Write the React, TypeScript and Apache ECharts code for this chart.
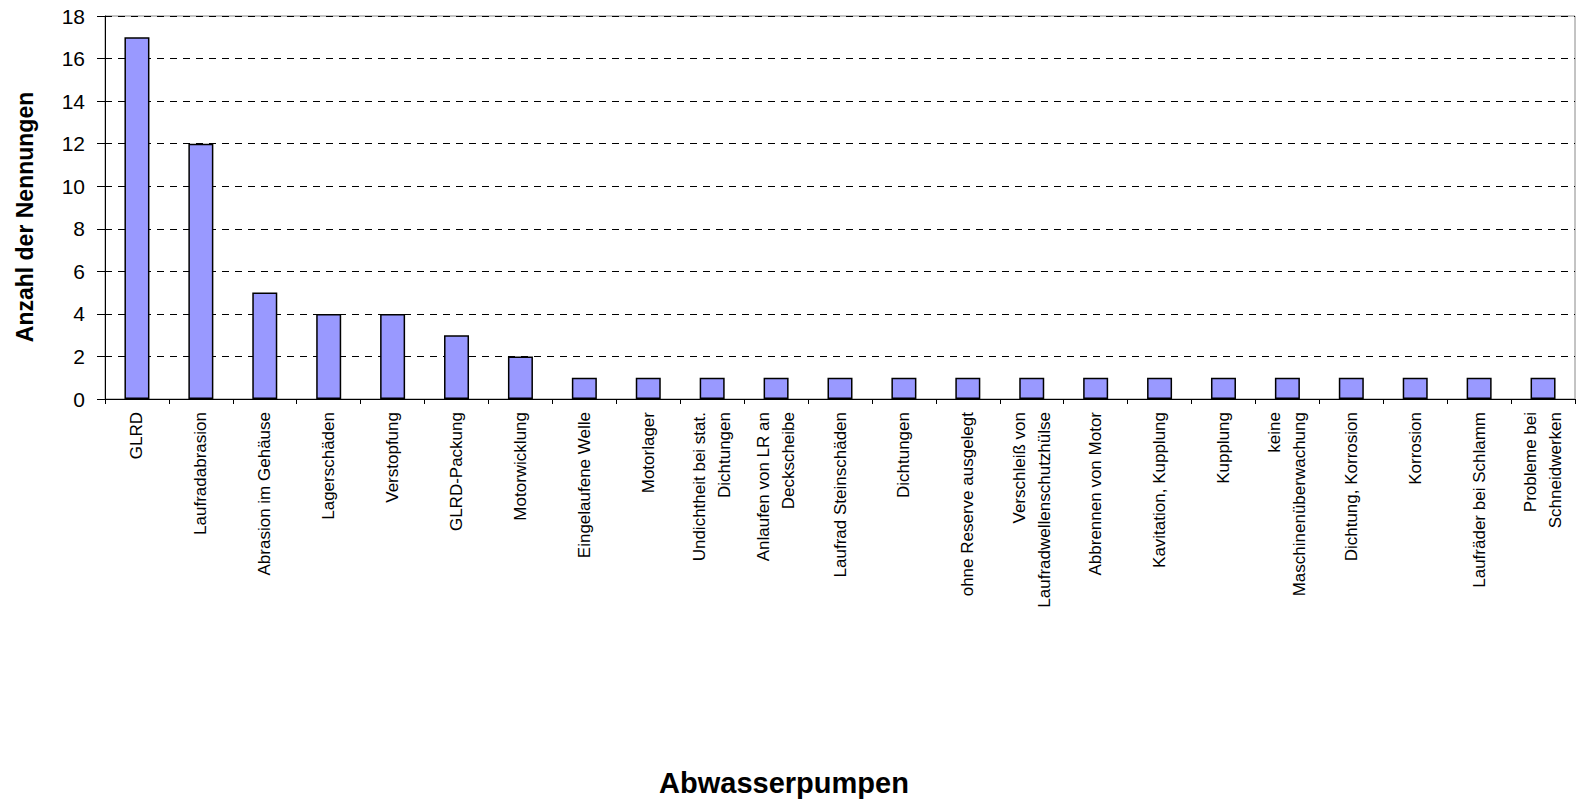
import React, { useEffect, useRef } from "react";
import * as echarts from "echarts";

const categories: string[] = [
  "GLRD",
  "Laufradabrasion",
  "Abrasion im Gehäuse",
  "Lagerschäden",
  "Verstopfung",
  "GLRD-Packung",
  "Motorwicklung",
  "Eingelaufene Welle",
  "Motorlager",
  "Undichtheit bei stat.\nDichtungen",
  "Anlaufen von LR an\nDeckscheibe",
  "Laufrad Steinschäden",
  "Dichtungen",
  "ohne Reserve ausgelegt",
  "Verschleiß von\nLaufradwellenschutzhülse",
  "Abbrennen von Motor",
  "Kavitation, Kupplung",
  "Kupplung",
  "keine\nMaschinenüberwachung",
  "Dichtung, Korrosion",
  "Korrosion",
  "Laufräder bei Schlamm",
  "Probleme bei\nSchneidwerken",
];

const values: number[] = [17, 12, 5, 4, 4, 3, 2, 1, 1, 1, 1, 1, 1, 1, 1, 1, 1, 1, 1, 1, 1, 1, 1];

const yAxisName = "Anzahl der Nennungen";
const xAxisName = "Abwasserpumpen";

const FONT = "'Liberation Sans', Arial, sans-serif";

export default function App() {
  const ref = useRef<HTMLDivElement>(null);
  useEffect(() => {
    if (!ref.current) return;
    const chart = echarts.init(ref.current, undefined, { renderer: "svg" });
    chart.setOption({
      animation: false,
      backgroundColor: "#ffffff",
      textStyle: { fontFamily: FONT },
      grid: {
        left: 105,
        right: 4,
        top: 16,
        bottom: 403,
        show: true,
        borderColor: "#888888",
        borderWidth: 1,
      },
      graphic: [
        {
          type: "text",
          x: 784,
          y: 783,
          style: {
            text: xAxisName,
            fontFamily: FONT,
            fontSize: 29,
            fontWeight: "bold",
            fill: "#000",
            align: "center",
            verticalAlign: "middle",
          },
        },
        {
          type: "text",
          x: 25,
          y: 217,
          rotation: Math.PI / 2,
          style: {
            text: yAxisName,
            fontFamily: FONT,
            fontSize: 23,
            fontWeight: "bold",
            fill: "#000",
            align: "center",
            verticalAlign: "middle",
          },
        },
      ],
      xAxis: {
        type: "category",
        data: categories,
        boundaryGap: true,
        axisLine: { show: true, lineStyle: { color: "#000", width: 1 } },
        axisTick: { show: true, alignWithLabel: false, interval: 0, length: 5, lineStyle: { color: "#000" } },
        axisLabel: {
          interval: 0,
          rotate: 90,
          margin: 13,
          fontFamily: FONT,
          fontSize: 17,
          lineHeight: 25,
          color: "#000",
        },
      },
      yAxis: {
        type: "value",
        min: 0,
        max: 18,
        interval: 2,
        axisLine: { show: true, lineStyle: { color: "#000", width: 1 } },
        axisTick: { show: true, length: 8, lineStyle: { color: "#000" } },
        axisLabel: { fontFamily: FONT, fontSize: 21, color: "#000", margin: 20 },
        splitLine: { show: true, lineStyle: { color: "#000", width: 1, type: [7, 6] } },
      },
      series: [
        {
          type: "bar",
          data: values,
          barWidth: 25,
          itemStyle: { color: "#9999FF", borderColor: "#000", borderWidth: 1.5 },
        },
      ],
    });
    return () => chart.dispose();
  }, []);
  return (
    <div
      ref={ref}
      style={{ position: "fixed", left: 0, top: 0, width: 1579, height: 802, background: "#fff" }}
    />
  );
}
